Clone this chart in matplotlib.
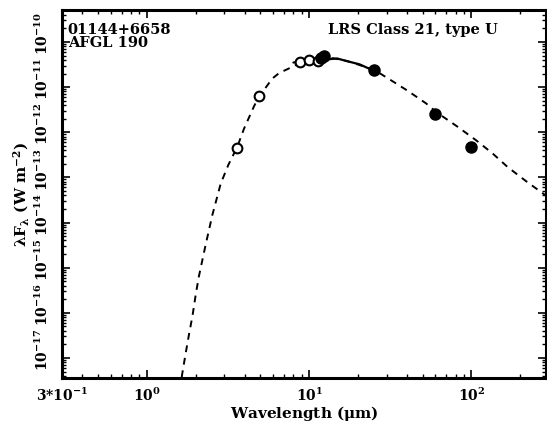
import matplotlib
matplotlib.use("Agg")
import matplotlib.pyplot as plt
import matplotlib.transforms as mtransforms
import numpy as np

# ---- data ----
open_wl = [3.6, 4.9, 8.8, 10.0, 11.4]
open_flux = [4.4e-13, 6.3e-12, 3.6e-11, 4.0e-11, 3.8e-11]

filled_wl = [11.8, 12.3, 25.0, 60.0, 100.0]
filled_flux = [4.5e-11, 4.8e-11, 2.4e-11, 2.6e-12, 4.6e-13]

lrs_wl = [8.0, 9.0, 10.0, 11.0, 12.7, 14.9, 16.9, 20.4, 23.8]
lrs_flux = [3.5e-11, 3.7e-11, 3.7e-11, 3.5e-11, 4.1e-11, 4.3e-11, 3.8e-11, 3.2e-11, 2.5e-11]

model_wl = [1.60, 1.65, 1.73, 1.82, 1.91, 2.0, 2.09, 2.30, 2.53, 2.85, 3.18, 3.6,
            3.97, 4.58, 4.9, 5.93, 6.53, 7.89, 8.8, 10.0, 12.0, 14.0, 17.0, 20.0,
            25.2, 30.4, 40.4, 52.5, 60.5, 82.3, 107.0, 135.0, 167.0, 220.0, 300.0]
model_logflux = [-17.7, -17.36, -16.92, -16.47, -16.07, -15.6, -15.2, -14.5, -13.84,
                 -13.14, -12.72, -12.33, -11.92, -11.42, -11.22, -10.81, -10.69,
                 -10.55, -10.46, -10.40, -10.36, -10.36, -10.42, -10.50,
                 -10.62, -10.80, -11.08, -11.36, -11.55, -11.88, -12.18, -12.47,
                 -12.77, -13.10, -13.45]

xtick_vals = [0.3, 1, 10, 100]
xtick_labels = ["3*10$^{-1}$", "10$^0$", "10$^1$", "10$^2$"]
ytick_exps = [-10, -11, -12, -13, -14, -15, -16, -17]

# ---- style ----
plt.rcParams['font.family'] = ['DejaVu Serif']
plt.rcParams['font.weight'] = 'bold'
plt.rcParams['mathtext.fontset'] = 'dejavuserif'
plt.rcParams['mathtext.default'] = 'bf'

fig = plt.figure(figsize=(5.47, 4.24), dpi=100)
ax = fig.add_axes([62/547, 1-378/424, (546-62)/547, (378-10)/424])
ax.set_xscale('log')
ax.set_yscale('log')
ax.set_xlim(0.3, 288)
ax.set_ylim(3.6e-18, 5.1e-10)

model_flux = [10**v for v in model_logflux]
ax.plot(model_wl, model_flux, color='black', lw=1.4, dashes=(3.5, 3))
ax.plot(lrs_wl, lrs_flux, color='black', lw=1.6, solid_capstyle='round')
ax.plot(open_wl, open_flux, 'o', ms=7, mfc='white', mec='black', mew=1.5)
ax.plot(filled_wl, filled_flux, 'o', ms=8, mfc='black', mec='black')

ax.set_xticks(xtick_vals)
ax.set_xticklabels(xtick_labels, fontsize=10)
yv = [10.0**e for e in ytick_exps]
ax.set_yticks(yv)
ax.set_yticklabels(["10$^{%d}$" % e for e in ytick_exps], fontsize=10,
                   rotation=90, va='center')

ax.tick_params(which='both', direction='in', top=True, right=True)
ax.tick_params(which='major', length=6, width=1.2)
ax.tick_params(axis='x', which='major', pad=6)
ax.tick_params(axis='y', which='major', pad=8)
ax.tick_params(which='minor', length=3, width=1.0)
for s in ax.spines.values():
    s.set_linewidth(2.2)

# shift rotated y labels up so the base "10" sits on the tick
off = mtransforms.ScaledTranslation(0, 8/100, fig.dpi_scale_trans)
for lab in ax.get_yticklabels():
    lab.set_transform(lab.get_transform() + off)

ax.set_xlabel("Wavelength ($\\mu$m)", fontsize=11, fontweight='bold', labelpad=0)
ax.set_ylabel("$\\lambda$F$_\\lambda$ (W m$^{-2}$)", fontsize=11, fontweight='bold', labelpad=2)

ax.text(0.012, 0.965, "01144+6658\nAFGL 190", transform=ax.transAxes,
        ha='left', va='top', fontsize=10.5, fontweight='bold', linespacing=0.95)
ax.text(0.9, 0.965, "LRS Class 21, type U", transform=ax.transAxes,
        ha='right', va='top', fontsize=10.5, fontweight='bold')

fig.savefig("out.png", dpi=100)
